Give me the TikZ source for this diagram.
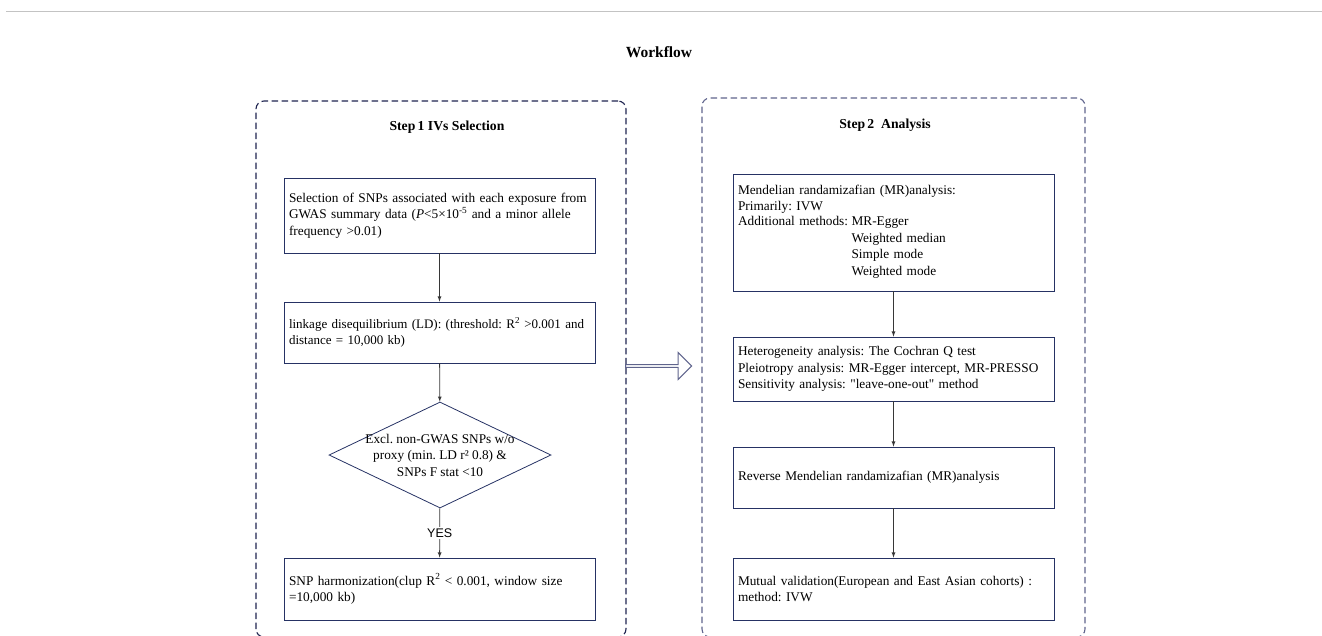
\documentclass[tikz,border=0pt]{standalone}
\usepackage{fontspec}
\setmainfont{Liberation Serif}
\setsansfont{Liberation Sans}
\usetikzlibrary{shapes.geometric,shapes.arrows,positioning}
\definecolor{boxnavy}{RGB}{38,50,100}
\definecolor{frameleft}{RGB}{30,36,80}
\definecolor{frameright}{RGB}{95,100,140}
\definecolor{linkgray}{RGB}{55,55,55}
\definecolor{rulegray}{RGB}{195,195,195}

\begin{document}
\frenchspacing
\begin{tikzpicture}[x=1pt,y=-1pt,>=latex,
    frame/.style={draw,dash pattern=on 6.5pt off 3.5pt,rounded corners=8pt,line width=1.1pt,minimum width=#1},
    stepbox/.style={draw=boxnavy,line width=0.8pt,align=left,inner xsep=5pt,inner ysep=2pt,font=\fontsize{13.3}{16.5}\selectfont},
    leftbox/.style={stepbox,text width=301pt},
    rightbox/.style={stepbox,text width=311pt},
    decision/.style={diamond,draw=boxnavy,line width=0.8pt,minimum width=222pt,minimum height=106pt,inner sep=0pt},
    heading/.style={font=\bfseries\fontsize{13.7}{16}\selectfont}]
    \useasboundingbox (0,0) rectangle (1322,635);
    \draw[rulegray,line width=1pt] (6,11) -- (1322,11);
    \node[heading,font=\bfseries\fontsize{15.5}{18}\selectfont] (title) at (659,52) {Workflow};

    % step 1
    \node[frame=370pt,draw=frameleft,minimum height=536pt] (step1) at (441,369) {};
    \node[heading] (t1) at (447,127) {Step\,1 IVs Selection};
    \node[leftbox,minimum height=75pt] (sel) at (439.5,215.5) {Selection of SNPs associated with each exposure from GWAS summary data (\textit{P}<5×10\textsuperscript{-5} and a minor allele frequency >0.01)};
    \node[leftbox,minimum height=61pt,font=\fontsize{13}{16.5}\selectfont] (ld) at (439.5,332.5) {linkage disequilibrium (LD): (threshold: R\textsuperscript{2} >0.001 and\\distance = 10,000 kb)};
    \node[decision,label={[align=center,font=\fontsize{13.3}{16.5}\selectfont]center:Excl. non-GWAS SNPs w/o\\proxy (min. LD r² 0.8) \&\\SNPs F stat <10}] (excl) at (440,455) {};
    \node[leftbox,minimum height=62pt] (harm) at (439.5,589) {SNP harmonization(clup R\textsuperscript{2} < 0.001, window size =10,000 kb)};
    \path[->,linkgray,line width=0.8pt]
    (sel) edge (ld)
    (ld) edge (excl)
    (excl) edge node[fill=white,inner sep=1.5pt,text=black,font=\sffamily\fontsize{12.5}{14}\selectfont] {YES} (harm);

    \node[single arrow,draw=frameright,line width=1pt,minimum height=66pt,minimum width=27pt,single arrow head extend=4.5pt,inner sep=0pt] (flow) at (658,366) {};

    % step 2
    \node[frame=383pt,draw=frameright,minimum height=539pt] (step2) at (893.5,367.5) {};
    \node[heading] (t2) at (885,125) {Step\,2\ \ Analysis};
    \node[rightbox,minimum height=117pt] (mra) at (893.5,232.5) {Mendelian randamizafian (MR)analysis:\\Primarily: IVW\\
      \begin{tabular}{@{}l@{\hspace{3.5pt}}l@{}}Additional methods: &MR-Egger\\ &Weighted median\\ &Simple mode\\ &Weighted mode\end{tabular}};
    \node[rightbox,minimum height=64pt] (het) at (893.5,369) {Heterogeneity analysis: The Cochran Q test\\Pleiotropy analysis: MR-Egger intercept, MR-PRESSO\\Sensitivity analysis: \textquotedbl leave-one-out\textquotedbl{} method};
    \node[rightbox,minimum height=61pt] (rev) at (893.5,477.5) {Reverse Mendelian randamizafian (MR)analysis};
    \node[rightbox,minimum height=62pt] (mut) at (893.5,589) {Mutual validation(European and East Asian cohorts) :\\method: IVW};
    \path[->,linkgray,line width=0.8pt]
    (mra) edge (het)
    (het) edge (rev)
    (rev) edge (mut);
\end{tikzpicture}
\end{document}
